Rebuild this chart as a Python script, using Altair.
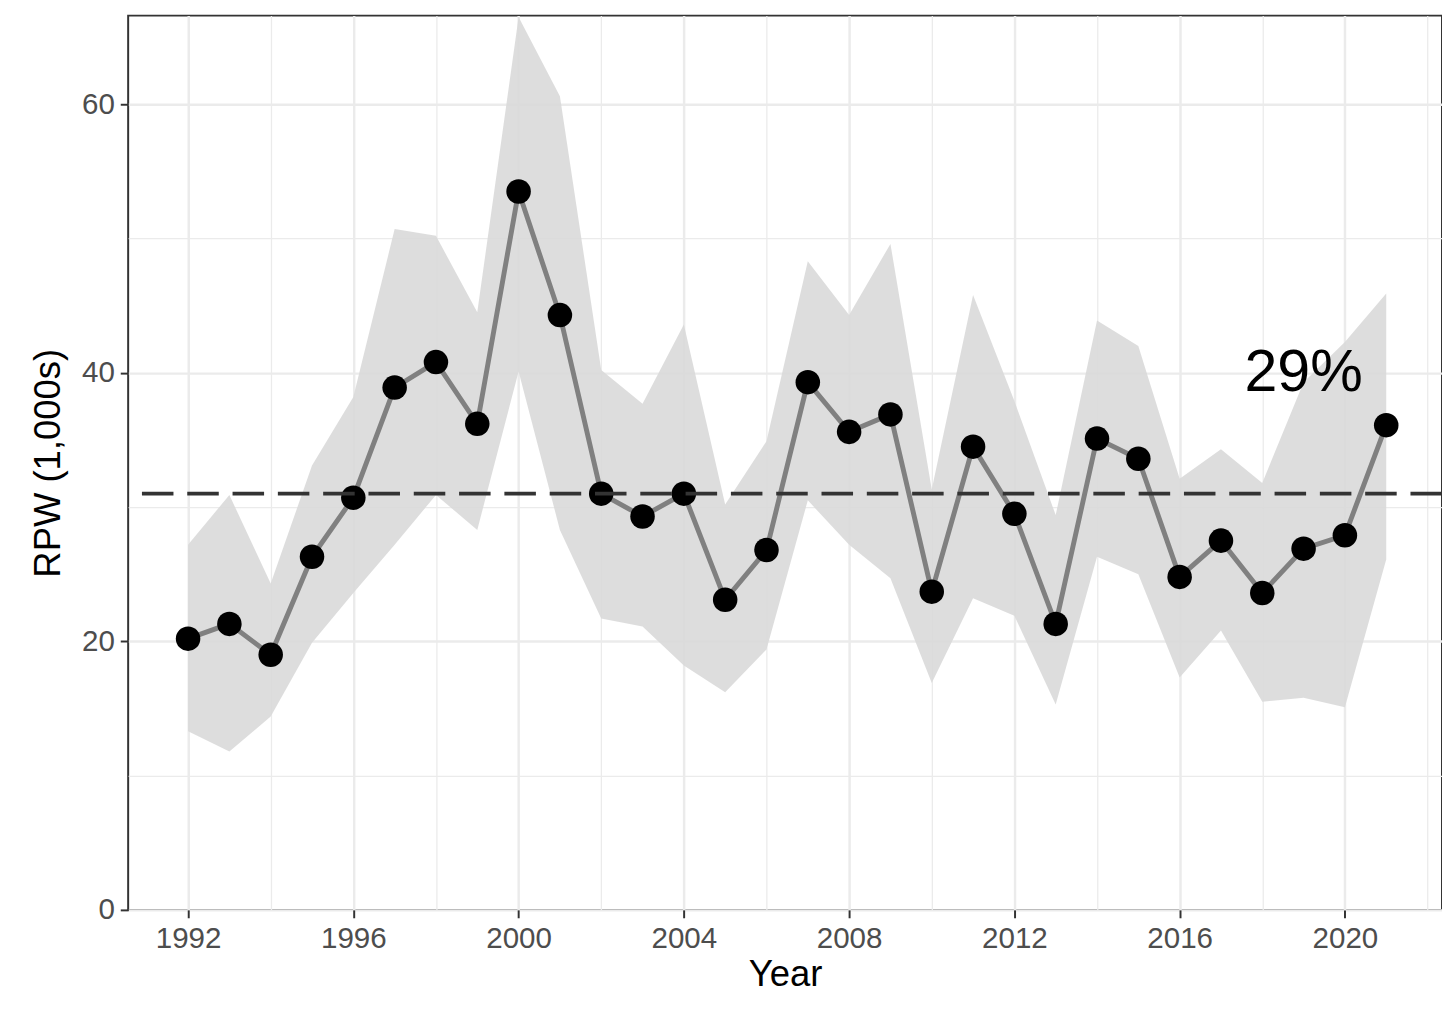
import pandas as pd
import altair as alt

years = list(range(1992, 2022))
rpw = [20.2, 21.3, 19.0, 26.3, 30.7, 38.9, 40.8, 36.2, 53.5, 44.3,
       31.0, 29.3, 31.0, 23.1, 26.8, 39.3, 35.6, 36.9, 23.7, 34.5,
       29.5, 21.3, 35.1, 33.6, 24.8, 27.5, 23.6, 26.9, 27.9, 36.1]
upper = [27.2, 30.9, 24.3, 33.1, 38.2, 50.7, 50.2, 44.5, 66.5, 60.6,
         40.2, 37.7, 43.6, 30.2, 34.9, 48.3, 44.3, 49.6, 31.3, 45.8,
         37.9, 29.4, 43.9, 42.0, 32.1, 34.3, 31.8, 39.3, 42.3, 45.9]
lower = [13.3, 11.8, 14.4, 19.9, 23.6, 27.2, 30.9, 28.3, 40.1, 28.3,
         21.7, 21.1, 18.2, 16.2, 19.4, 30.5, 27.2, 24.7, 16.9, 23.2,
         21.9, 15.3, 26.3, 25.0, 17.3, 20.8, 15.5, 15.8, 15.1, 26.1]
mean_line = 31.0
label_text = "29%"

df = pd.DataFrame({"year": years, "rpw": rpw, "lo": lower, "hi": upper})

major_x = "(datum.value - 1992) % 4 == 0"
x_scale = alt.Scale(domain=[1990.55, 2022.35], nice=False, zero=False)
y_scale = alt.Scale(domain=[0, 66.6], nice=False)

common = dict(
    gridColor="#ebebeb", labelFontSize=30, titleFontSize=37,
    labelColor="#4d4d4d", titleColor="#000", tickColor="#333", tickSize=8,
    tickWidth=2, labelPadding=6, domain=False, titleFontWeight="normal",
)
x_axis = alt.Axis(
    title="Year", values=list(range(1990, 2024, 2)), format="d",
    labelExpr=f"{major_x} ? datum.label : ''",
    tickOpacity={"condition": {"test": major_x, "value": 1}, "value": 0},
    gridWidth={"condition": {"test": major_x, "value": 2.5}, "value": 1.3},
    titlePadding=4, **common,
)
major_y = "datum.value % 20 == 0"
y_axis = alt.Axis(
    title="RPW (1,000s)", values=list(range(0, 70, 10)),
    labelExpr=f"{major_y} ? datum.label : ''",
    tickOpacity={"condition": {"test": major_y, "value": 1}, "value": 0},
    gridWidth={"condition": {"test": major_y, "value": 2.5}, "value": 1.3},
    titlePadding=14, **common,
)

base = alt.Chart(df).encode(x=alt.X("year:Q", scale=x_scale, axis=x_axis))

band = base.mark_area(color="#d9d9d9", opacity=0.9).encode(
    y=alt.Y("lo:Q", scale=y_scale, axis=y_axis), y2="hi:Q")
line = base.mark_line(color="#808080", strokeWidth=5).encode(y="rpw:Q")
pts = base.mark_circle(color="#000", size=620, opacity=1).encode(y="rpw:Q")

hline = alt.Chart(pd.DataFrame({"v": [mean_line]})).mark_rule(
    color="#333", strokeWidth=4, strokeDash=[32, 14]).encode(y="v:Q")

txt = alt.Chart(pd.DataFrame({"x": [2019], "y": [40.0], "t": [label_text]})).mark_text(
    fontSize=60, font="Liberation Sans", color="#000").encode(x="x:Q", y="y:Q", text="t:N")

chart = alt.layer(band, line, pts, hline, txt).properties(
    width=1334, height=908, autosize="none",
    padding={"left": 122, "top": 0, "right": 0, "bottom": 100},
).configure_view(stroke="#333", strokeWidth=2).configure_axis(
    labelFont="Liberation Sans", titleFont="Liberation Sans")

chart.save("out.html", embed_options={"renderer": "svg", "actions": False})
